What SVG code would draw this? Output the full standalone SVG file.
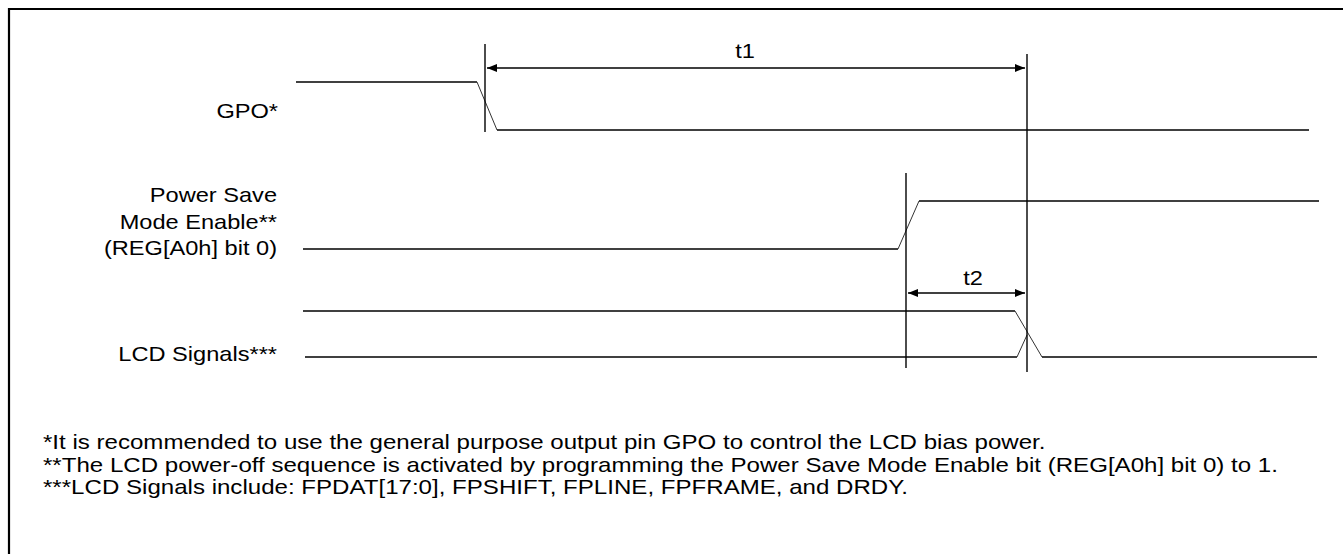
<svg xmlns="http://www.w3.org/2000/svg" width="1343" height="554" viewBox="0 0 1343 554">
<style>
.t{font-family:"Liberation Sans",Arial,sans-serif;font-size:20px;fill:#000}
.e{text-anchor:end}
.m{text-anchor:middle}
.s{stroke:#000;stroke-width:1.4;fill:none}
.sl{stroke:#333;stroke-width:1;fill:none}
.v{stroke:#000;stroke-width:1.4;fill:none}
</style>
<defs>
<marker id="ah" viewBox="0 0 10 8" refX="10" refY="4" markerWidth="10" markerHeight="8" markerUnits="userSpaceOnUse" orient="auto-start-reverse">
<path d="M0,0 L10,4 L0,8 Z" fill="#000"/>
</marker>
</defs>
<path d="M9,554 V9 H1343" stroke="#000" stroke-width="2.2" fill="none"/>
<g id="labels">
<text class="t e" transform="translate(278,118) scale(1.18,1)">GPO*</text>
<text class="t e" transform="translate(277,202) scale(1.18,1)">Power Save</text>
<text class="t e" transform="translate(277,229) scale(1.18,1)">Mode Enable**</text>
<text class="t e" transform="translate(277,255) scale(1.18,1)">(REG[A0h] bit 0)</text>
<text class="t e" transform="translate(277,361) scale(1.18,1)">LCD Signals***</text>
</g>
<g id="gpo">
<path class="s" d="M296,82 H477"/>
<path class="sl" d="M477,82 L497,130"/>
<path class="s" d="M497,130 H1309"/>
</g>
<g id="psme">
<path class="s" d="M303,249 H898"/>
<path class="sl" d="M898,249 L919,201"/>
<path class="s" d="M919,201 H1319"/>
</g>
<g id="lcd">
<path class="s" d="M303,311 H1015"/>
<path class="sl" d="M1015,311 L1042,357"/>
<path class="s" d="M1042,357 H1317"/>
<path class="s" d="M305,357 H1017"/>
<path class="sl" d="M1017,357 L1027,335"/>
</g>
<g id="connectors">
<path class="v" d="M485,44 V132"/>
<path class="v" d="M1027,54 V372"/>
<path class="v" d="M906,173 V368"/>
<path class="s" d="M487,68 H1025" marker-start="url(#ah)" marker-end="url(#ah)"/>
<path class="s" d="M908,293 H1025" marker-start="url(#ah)" marker-end="url(#ah)"/>
</g>
<g id="timing-labels">
<text class="t m" transform="translate(745,58) scale(1.18,1)">t1</text>
<text class="t m" transform="translate(973,285) scale(1.18,1)">t2</text>
</g>
<g id="notes">
<text class="t" transform="translate(43,449) scale(1.205,1)">*It is recommended to use the general purpose output pin GPO to control the LCD bias power.</text>
<text class="t" transform="translate(43,472) scale(1.205,1)">**The LCD power-off sequence is activated by programming the Power Save Mode Enable bit (REG[A0h] bit 0) to 1.</text>
<text class="t" transform="translate(43,494) scale(1.205,1)">***LCD Signals include: FPDAT[17:0], FPSHIFT, FPLINE, FPFRAME, and DRDY.</text>
</g>
</svg>
